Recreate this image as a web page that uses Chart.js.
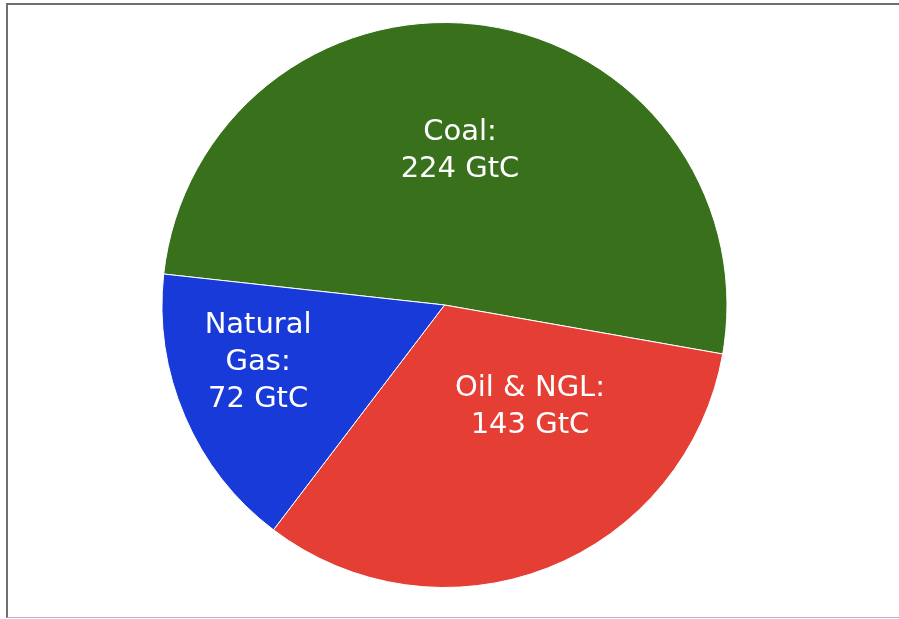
<!DOCTYPE html>
<html>
<head>
<meta charset="utf-8">
<script src="https://cdn.jsdelivr.net/npm/chart.js@4/dist/chart.umd.min.js"></script>
<style>
    html, body {
        margin: 0;
        padding: 0;
        background: #ffffff;
    }
    #frame {
        position: absolute;
        left: 6px;
        top: 3px;
        right: 0;
        bottom: 1px;
        border-left: 2px solid #6f6f6f;
        border-top: 2px solid #6f6f6f;
        border-bottom: 1px solid #b5b5b5;
    }
    #wrap {
        position: absolute;
        left: 0;
        top: 0;
        width: 899px;
        height: 619px;
    }
</style>
</head>
<body>
<div id="frame"></div>
<div id="wrap"><canvas id="pieChart"></canvas></div>
<script>
const categories = ['Coal', 'Oil & NGL', 'Natural Gas'];
const labelLines = [['Coal:', '224 GtC'], ['Oil & NGL:', '143 GtC'], ['Natural', 'Gas:', '72 GtC']];
const reserves = [224, 143, 72];
const sliceColors = ['#38701c', '#e53e34', '#183ad8'];

// where each label sits: fraction of the radius, and shift (deg) off the slice bisector
const labelRadius = [0.548, 0.471, 0.69];
const labelShift = [-2.4, -18.6, 6.2];

const sliceLabels = {
    id: 'sliceLabels',
    afterDatasetsDraw(chart) {
        const ctx = chart.ctx;
        const arcs = chart.getDatasetMeta(0).data;
        ctx.save();
        ctx.fillStyle = '#ffffff';
        ctx.font = '29px "DejaVu Sans", Verdana, sans-serif';
        ctx.textAlign = 'center';
        ctx.textBaseline = 'middle';
        const lineHeight = 37;
        arcs.forEach((arc, i) => {
            const p = arc.getProps(['x', 'y', 'startAngle', 'endAngle', 'outerRadius'], true);
            const mid = (p.startAngle + p.endAngle) / 2 + labelShift[i] * Math.PI / 180;
            const r = p.outerRadius * labelRadius[i];
            const cx = p.x + Math.cos(mid) * r;
            const cy = p.y + Math.sin(mid) * r;
            const lines = labelLines[i];
            const top = cy - (lines.length - 1) * lineHeight / 2;
            lines.forEach((t, j) => ctx.fillText(t, cx, top + j * lineHeight));
        });
        ctx.restore();
    }
};

new Chart(document.getElementById('pieChart'), {
    type: 'pie',
    data: {
        labels: categories,
        datasets: [{
            data: reserves,
            backgroundColor: sliceColors,
            borderColor: '#ffffff',
            borderWidth: 1
        }]
    },
    options: {
        responsive: true,
        maintainAspectRatio: false,
        animation: false,
        rotation: 276.3,
        layout: {
            padding: {top: 22, bottom: 31, left: 0, right: 10}
        },
        plugins: {
            legend: {display: false},
            tooltip: {enabled: false}
        }
    },
    plugins: [sliceLabels]
});
</script>
</body>
</html>
